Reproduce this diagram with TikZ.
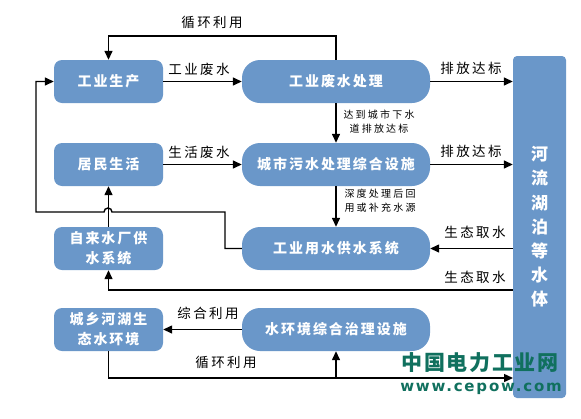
\documentclass[tikz,border=0pt]{standalone}
\usepackage{fontspec}
\newfontfamily\cjk{Noto Sans CJK SC}[LetterSpace=14]
\newfontfamily\cjklb{Noto Sans CJK SC}[LetterSpace=18]
\newfontfamily\cjksm{Noto Sans CJK SC}[LetterSpace=22]
\newfontfamily\wmfont{DejaVu Sans}[LetterSpace=12]
\newfontfamily\wmcjk{Noto Sans CJK SC}[LetterSpace=8]
\usetikzlibrary{arrows.meta}
\definecolor{boxblue}{HTML}{6A97C9}
\definecolor{wmgreen}{HTML}{10705E}
\tikzset{
  box/.style={fill=boxblue,text=white,font=\cjk\fontsize{14}{20}\selectfont\bfseries,align=center,minimum height=43pt,inner sep=0pt},
  lbox/.style={box,rounded corners=8pt,minimum width=109pt},
  rbox/.style={box,rounded corners=18pt,minimum width=188pt},
  river/.style={box,rounded corners=4pt,minimum width=53pt,minimum height=342pt,font=\cjk\fontsize{17}{24.2}\selectfont\bfseries},
  arr/.style={line width=1.4pt,-{Triangle[length=9pt,width=8pt]}},
  lbl/.style={font=\cjklb\fontsize{13.5}{16}\selectfont,inner sep=0pt},
  slbl/.style={font=\cjksm\fontsize{10}{14}\selectfont,align=center,inner sep=0pt},
}
\begin{document}
\begin{tikzpicture}[x=1pt,y=-1pt]
\useasboundingbox (0,0) rectangle (581,418);
\node[lbox] (gygc) at (108.5,81.5) {工业生产};
\node[rbox] (gyfs) at (336,81.5) {工业废水处理};
\node[lbox] (jmsh) at (108.5,164.5) {居民生活};
\node[rbox] (csws) at (336,164.5) {城市污水处理综合设施};
\node[lbox] (zls) at (108.5,248.5) {自来水厂供\\水系统};
\node[rbox] (gyys) at (336,248.5) {工业用水供水系统};
\node[lbox] (cxhh) at (108.5,329.5) {城乡河湖生\\态水环境};
\node[rbox] (hjzl) at (336,329.5) {水环境综合治理设施};
\node[river] (river) at (539.5,227) {河\\流\\湖\\泊\\等\\水\\体};
% top loop
\coordinate (t1) at (336,36);
\draw[arr] (gyfs.north) -- (t1) -| (gygc.north);
\node[lbl] (l1) at (212,22) {循环利用};
\draw[arr] (gygc.east) -- (gyfs.west);
\node[lbl] (l2) at (199,69) {工业废水};
\draw[arr] (gyfs.east) -- (river.west |- gyfs.east);
\node[lbl] (l3) at (471,68) {排放达标};
\draw[arr] (gyfs.south) -- (csws.north);
\node[slbl] (l4) at (379,122) {达到城市下水\\道排放达标};
\draw[arr] (jmsh.east) -- (csws.west);
\node[lbl] (l5) at (199,152) {生活废水};
\draw[arr] (csws.east) -- (river.west |- csws.east);
\node[lbl] (l6) at (471,151) {排放达标};
\draw[arr] (csws.south) -- (gyys.north);
\node[slbl] (l7) at (380,201) {深度处理后回\\用或补充水源};
\draw[arr] (river.west |- gyys.east) -- (gyys.east);
\node[lbl] (l8) at (475,232) {生态取水};
\coordinate (w1) at (513,290);
\draw[arr] (w1) -| (zls.south);
\node[lbl] (l9) at (475,277) {生态取水};
\draw[arr] (zls.north) -- (jmsh.south);
% loop from industrial supply back to industrial production, with hop
\coordinate (h1) at (225,212);
\coordinate (h2) at (112,212);
\coordinate (h3) at (36,212);
\draw[arr] (gyys.west) -| (h1) -- (h2) arc[start angle=0,end angle=180,radius=4pt] -- (h3) |- (gygc.west);
\draw[arr] (hjzl.west) -- (cxhh.east);
\node[lbl] (l10) at (208,313) {综合利用};
\coordinate (b1) at (513,378);
\draw[arr] (cxhh.south) |- (b1);
\coordinate (b2) at (336,378);
\draw[arr] (b2) -- (hjzl.south);
\node[lbl] (l11) at (226,362) {循环利用};
% watermark
\node[font=\wmcjk\fontsize{21}{24}\selectfont\bfseries,text=wmgreen,inner sep=0pt] (wm1) at (480,363) {中国电力工业网};
\node[font=\wmfont\fontsize{15}{18}\selectfont\bfseries,text=wmgreen,inner sep=0pt] (wm2) at (481,389) {www.cepow.com};
\end{tikzpicture}
\end{document}
